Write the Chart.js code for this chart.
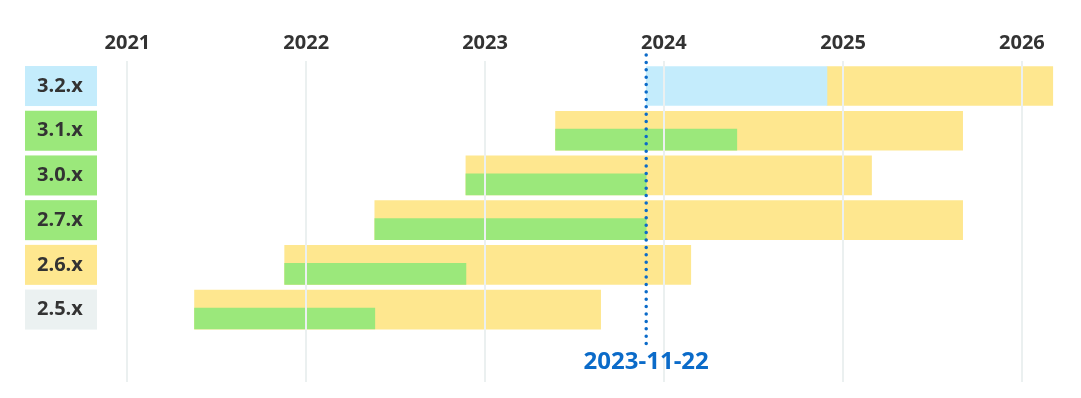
<!DOCTYPE html>
<html>
<head>
<meta charset="utf-8">
<script src="https://cdn.jsdelivr.net/npm/chart.js@4.4.1/dist/chart.umd.min.js"></script>
<style>
  html, body { margin: 0; padding: 0; background: #fff; }
  #wrap { position: relative; width: 1081px; height: 398px; }
</style>
</head>
<body>
<div id="wrap"><canvas id="timeline"></canvas></div>
<script>
// release lines, newest first
const VERSIONS = ["3.2.x", "3.1.x", "3.0.x", "2.7.x", "2.6.x", "2.5.x"];
const STATUS = ["future", "oss", "oss", "oss", "commercial", "eol"];
const RELEASED = ["2023-11-26", "2023-05-25", "2022-11-23", "2022-05-21", "2021-11-18", "2021-05-18"];
const OSS_END = ["2024-11-29", "2024-05-29", "2023-11-26", "2023-11-26", "2022-11-23", "2022-05-21"];
const COMMERCIAL_END = ["2026-03-05", "2025-09-02", "2025-02-28", "2025-09-02", "2024-02-25", "2023-08-25"];
const YEARS = [2021, 2022, 2023, 2024, 2025, 2026];
const TODAY = "2023-11-22";
const TODAY_MARK = "2023-11-26";
const X_MIN = "2020-11-06";
const X_MAX = "2026-04-01";

const FONT = '"Open Sans", "Noto Sans", sans-serif';
const TEXT = "#333333";
const YELLOW = "#fee78f";
const GREEN = "#9be87b";
const BLUE = "#c4ecfc";
const TODAY_COLOR = "#0b6bc9";
const BADGE = { future: BLUE, oss: GREEN, commercial: YELLOW, eol: "#ebf1f1" };
const GREEN_SHIFT = 0.2;

const toMs = (s) => Date.parse(s + "T00:00:00Z");

const yellowData = VERSIONS.map((v, i) => ({
  x: [toMs(STATUS[i] === "future" ? OSS_END[i] : RELEASED[i]), toMs(COMMERCIAL_END[i])],
  y: i,
}));
const blueData = [];
const greenData = [];
VERSIONS.forEach((v, i) => {
  const span = [toMs(RELEASED[i]), toMs(OSS_END[i])];
  if (STATUS[i] === "future") blueData.push({ x: span, y: i });
  else greenData.push({ x: span, y: i + GREEN_SHIFT });
});

const badges = {
  id: "badges",
  beforeDraw(chart) {
    const { ctx } = chart;
    const y = chart.scales.y;
    ctx.save();
    VERSIONS.forEach((v, i) => {
      const py = y.getPixelForValue(i);
      ctx.fillStyle = BADGE[STATUS[i]];
      ctx.fillRect(25, py - 20, 72, 40);
    });
    ctx.restore();
  },
};

const todayLine = {
  id: "todayLine",
  afterDraw(chart) {
    const { ctx, chartArea } = chart;
    const px = chart.scales.x.getPixelForValue(toMs(TODAY_MARK));
    const labelY = 362;
    ctx.save();
    ctx.strokeStyle = TODAY_COLOR;
    ctx.lineWidth = 3.5;
    ctx.lineCap = "round";
    ctx.setLineDash([0, 7.4]);
    ctx.beginPath();
    ctx.moveTo(px, chartArea.top - 6);
    ctx.lineTo(px, labelY - 14);
    ctx.stroke();
    ctx.setLineDash([]);
    ctx.fillStyle = TODAY_COLOR;
    ctx.font = "bold 24px " + FONT;
    ctx.textAlign = "center";
    ctx.textBaseline = "middle";
    ctx.fillText(TODAY, px, labelY);
    ctx.restore();
  },
};

new Chart(document.getElementById("timeline"), {
  type: "bar",
  data: {
    datasets: [
      { label: "OSS support", data: greenData, backgroundColor: GREEN, barThickness: 21, grouped: false },
      { label: "Upcoming", data: blueData, backgroundColor: BLUE, barThickness: 39, grouped: false },
      { label: "Commercial support", data: yellowData, backgroundColor: YELLOW, barThickness: 39, grouped: false },
    ],
  },
  options: {
    indexAxis: "y",
    responsive: true,
    maintainAspectRatio: false,
    animation: false,
    layout: { padding: { top: 26, right: 15, bottom: 16, left: 37 } },
    plugins: { legend: { display: false }, tooltip: { enabled: false } },
    scales: {
      x: {
        type: "linear",
        position: "top",
        min: toMs(X_MIN),
        max: toMs(X_MAX),
        afterBuildTicks: (s) => {
          s.ticks = YEARS.map((yr) => ({ value: Date.UTC(yr, 0, 1) }));
        },
        ticks: {
          callback: (v) => String(new Date(v).getUTCFullYear()),
          font: { family: FONT, size: 20, weight: "bold" },
          color: TEXT,
          padding: 5.5,
          maxRotation: 0,
          autoSkip: false,
        },
        grid: { color: "#ebf0f0", lineWidth: 2, drawTicks: false, z: 1 },
        border: { display: false },
      },
      y: {
        type: "linear",
        reverse: true,
        offset: false,
        min: -0.56,
        max: 6.62,
        afterBuildTicks: (s) => {
          s.ticks = VERSIONS.map((v, i) => ({ value: i }));
        },
        afterFit: (s) => {
          s.width = 63;
        },
        ticks: {
          callback: (v) => VERSIONS[v],
          crossAlign: "far",
          padding: 0,
          font: { family: FONT, size: 20, weight: "bold" },
          color: TEXT,
          autoSkip: false,
        },
        grid: { display: false, drawTicks: false },
        border: { display: false },
      },
    },
  },
  plugins: [badges, todayLine],
});
</script>
</body>
</html>
